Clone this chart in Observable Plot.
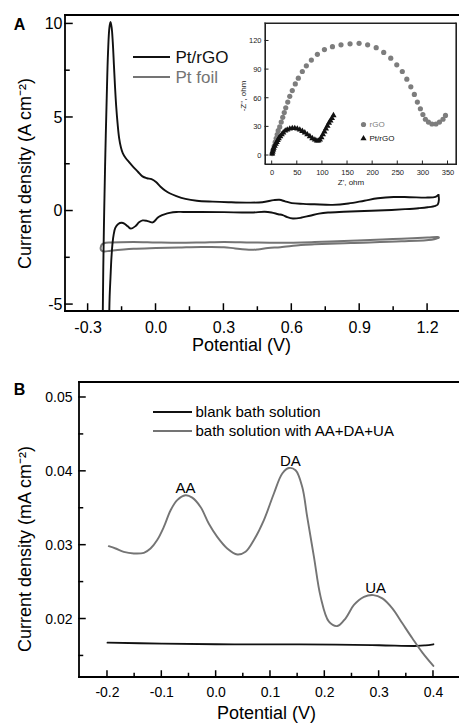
<!DOCTYPE html>
<html><head><meta charset="utf-8">
<script src="https://cdn.jsdelivr.net/npm/d3@7"></script>
<script src="https://cdn.jsdelivr.net/npm/@observablehq/plot@0.6"></script>
<style>
body{margin:0;background:#fff;}
#wrap{position:relative;width:459px;height:724px;overflow:hidden;background:#fff;}
#wrap svg{position:absolute;}
</style></head><body><div id="wrap"></div>
<script>
const FONT = "Liberation Sans, Arial, sans-serif";
const BLACK = "#111", GRAY = "#747474";

// ---------- Panel A: cyclic voltammograms ----------
const seriesA = ["Pt/rGO", "Pt foil"];
const xTicksA = [-0.3, 0.0, 0.3, 0.6, 0.9, 1.2];
const xMinorA = [-0.15, 0.15, 0.45, 0.75, 1.05];
const yTicksA = [-5, 0, 5, 10];
const yMinorA = [-2.5, 2.5, 7.5];
const xDomA = [-0.4, 1.341];
const yDomA = [-5.37, 10.45];

const ptrgoAnodic = [[-0.236,-6.5],[-0.233,-3],[-0.229,0],[-0.224,3],[-0.218,6],[-0.212,8.5],[-0.206,9.8],[-0.201,10.1],[-0.196,9.8],[-0.191,9.0],[-0.186,7.8],[-0.181,6.6],[-0.176,5.6],[-0.17,4.7],[-0.163,3.9],[-0.155,3.4],[-0.147,3.1],[-0.135,2.85],[-0.118,2.6],[-0.1,2.35],[-0.08,2.1],[-0.06,1.85],[-0.04,1.75],[-0.02,1.7],[0.0,1.55],[0.02,1.3],[0.04,1.1],[0.06,0.95],[0.09,0.8],[0.13,0.65],[0.18,0.55],[0.25,0.5],[0.32,0.47],[0.4,0.45],[0.47,0.47],[0.52,0.58],[0.545,0.6],[0.57,0.52],[0.6,0.42],[0.65,0.38],[0.7,0.36],[0.78,0.33],[0.85,0.4],[0.92,0.55],[0.98,0.68],[1.05,0.75],[1.12,0.74],[1.2,0.72],[1.235,0.76],[1.248,0.86]];
const ptrgoCathodic = [[1.248,0.86],[1.25,0.6],[1.245,0.35],[1.235,0.28],[1.2,0.2],[1.16,0.15],[1.1,0.1],[1.01,0.04],[0.92,0.0],[0.83,-0.04],[0.76,-0.08],[0.72,-0.14],[0.68,-0.25],[0.64,-0.36],[0.605,-0.4],[0.58,-0.33],[0.56,-0.22],[0.54,-0.17],[0.51,-0.08],[0.48,-0.04],[0.42,-0.08],[0.3,-0.06],[0.2,-0.05],[0.12,-0.05],[0.09,-0.05],[0.06,-0.1],[0.037,-0.18],[0.02,-0.26],[0.007,-0.36],[-0.005,-0.52],[-0.015,-0.61],[-0.027,-0.58],[-0.04,-0.53],[-0.059,-0.5],[-0.075,-0.6],[-0.09,-0.8],[-0.111,-0.94],[-0.125,-0.82],[-0.14,-0.67],[-0.152,-0.63],[-0.167,-0.69],[-0.18,-0.9],[-0.187,-1.25],[-0.192,-1.7],[-0.197,-2.5],[-0.201,-3.5],[-0.205,-4.6],[-0.208,-6.5]];
const ptFoil = [[-0.245,-1.98],[-0.24,-1.8],[-0.23,-1.72],[-0.2,-1.68],[-0.1,-1.65],[0.0,-1.68],[0.1,-1.7],[0.2,-1.68],[0.3,-1.65],[0.42,-1.68],[0.55,-1.7],[0.7,-1.66],[0.86,-1.59],[1.0,-1.52],[1.085,-1.48],[1.2,-1.42],[1.245,-1.39],[1.25,-1.42],[1.24,-1.47],[1.218,-1.53],[1.085,-1.62],[0.86,-1.71],[0.7,-1.78],[0.64,-1.82],[0.55,-1.93],[0.495,-1.98],[0.45,-2.05],[0.42,-2.07],[0.35,-2.0],[0.3,-1.93],[0.2,-1.92],[0.1,-1.95],[0.0,-1.98],[-0.1,-2.02],[-0.2,-2.12],[-0.23,-2.16],[-0.242,-2.1],[-0.245,-1.98]];

// ---------- Inset: Nyquist ----------
const seriesInset = ["rGO", "Pt/rGO"];
const xTicksIn = [0, 50, 100, 150, 200, 250, 300, 350];
const yTicksIn = [0, 30, 60, 90, 120];
const xDomIn = [-13.3, 366.9];
const yDomIn = [-9.4, 138.3];
const rgoZ = [[0,2],[2,6],[4,10],[6,14],[8,18],[10,22],[12,26],[15,30],[18,35],[21,40],[24,45],[27,50],[31,56],[35,62],[40,68],[46,75],[52,81],[60,88],[68,94],[78,100],[90,106],[104,111],[120,114],[137,116],[155,117],[173,117.5],[190,116],[207,113],[222,108],[236,102],[248,95],[259,88],[268,80],[276,72],[283,64],[289,56],[295,49],[300,43],[305,38],[311,35],[318,33],[326,33],[333,35],[340,38],[345,42]];
const ptrgoZ = [[0,2],[1,4],[2,6],[3,8],[5,10],[7,12],[9,14],[11,16],[13,18],[16,20],[19,22],[22,24],[26,26],[30,27],[35,28],[40,28.5],[45,28.5],[50,28],[55,27],[60,25.5],[65,24],[70,22],[75,20],[80,18],[85,16.5],[89,15.5],[92,15.5],[95,16.5],[98,19],[101,22],[104,25],[107,28],[110,31],[113,34],[116,36.5],[119,39],[122,42]];

// ---------- Panel B: DPV ----------
const seriesB = ["blank bath solution", "bath solution with AA+DA+UA"];
const xTicksB = [-0.2, -0.1, 0.0, 0.1, 0.2, 0.3, 0.4];
const xMinorB = [-0.15, -0.05, 0.05, 0.15, 0.25, 0.35];
const yTicksB = [0.02, 0.03, 0.04, 0.05];
const yMinorB = [0.015, 0.025, 0.035, 0.045];
const xDomB = [-0.2515, 0.4479];
const yDomB = [0.01208, 0.05203];
const blank = [[-0.2,0.0168],[-0.1,0.01667],[0.0,0.01658],[0.1,0.01657],[0.22,0.01652],[0.3,0.01645],[0.37,0.01635],[0.385,0.01643],[0.4,0.01658]];
const withAnalytes = [[-0.1976,0.02986],[-0.185,0.02955],[-0.17,0.0291],[-0.1516,0.02888],[-0.133,0.02897],[-0.1208,0.02955],[-0.1085,0.0307],[-0.0963,0.03247],[-0.084,0.0347],[-0.0717,0.0361],[-0.0564,0.03676],[-0.044,0.03644],[-0.0287,0.03518],[-0.0134,0.0329],[0.002,0.03112],[0.0204,0.02955],[0.0389,0.02874],[0.0541,0.0291],[0.0695,0.0307],[0.0879,0.0334],[0.1063,0.037],[0.1217,0.0397],[0.1339,0.04045],[0.1462,0.04014],[0.1585,0.03788],[0.1676,0.03382],[0.18,0.02842],[0.1923,0.023],[0.2076,0.01964],[0.223,0.01905],[0.2383,0.0201],[0.2536,0.0219],[0.2721,0.023],[0.2893,0.02324],[0.3059,0.0228],[0.3243,0.02145],[0.3427,0.01942],[0.3611,0.01739],[0.3796,0.01545],[0.3998,0.01365]];
const peakNames = ["AA", "DA", "UA"];
const peakX = [-0.0564, 0.1365, 0.2935];
const peakY = [0.03676, 0.04045, 0.02324];

const wrap = document.getElementById("wrap");
const f1 = d => d.toFixed(1);
const f2 = d => d.toFixed(2);
const f0 = d => String(d);

function place(svg, left, top) {
  svg.style.left = left + "px";
  svg.style.top = top + "px";
  wrap.appendChild(svg);
  return svg;
}

// frame sides and inward tick marks, positioned through the plot's own scales
function decorate(svg, o) {
  const sx = svg.scale("x"), sy = svg.scale("y");
  const X = v => sx.apply(v), Y = v => sy.apply(v);
  const g = d3.select(svg).append("g");
  const ln = (x1, y1, x2, y2, w) => g.append("line")
    .attr("x1", x1).attr("y1", y1).attr("x2", x2).attr("y2", y2)
    .attr("stroke", o.color).attr("stroke-width", w).attr("stroke-linecap", "square");
  const xa = X(o.xDom[0]), xb = X(o.xDom[1]), ya = Y(o.yDom[0]), yb = Y(o.yDom[1]);
  for (const v of o.xMaj) ln(X(v), ya, X(v), ya - o.maj, o.tw);
  for (const v of o.xMin) ln(X(v), ya, X(v), ya - o.min, o.tw);
  for (const v of o.yMaj) ln(xa, Y(v), xa + o.maj, Y(v), o.tw);
  for (const v of o.yMin) ln(xa, Y(v), xa + o.min, Y(v), o.tw);
  for (const s of o.sides) {
    if (s === "left") ln(xa, ya, xa, yb, o.fw);
    if (s === "right") ln(xb, ya, xb, yb, o.fw);
    if (s === "bottom") ln(xa, ya, xb, ya, o.fw);
    if (s === "top") ln(xa, yb, xb, yb, o.fw);
  }
}

// ===== Panel A =====
{
  const W = 459, H = 360, mt = 15, mb = 49, ml = 65, mr = 0;
  const svg = Plot.plot({
    width: W, height: H, marginTop: mt, marginBottom: mb, marginLeft: ml, marginRight: mr,
    style: {fontFamily: FONT, fontSize: "16px", color: "#000", background: "white"},
    x: {domain: xDomA},
    y: {domain: yDomA},
    marks: [
      Plot.line(ptFoil, {x: d => d[0], y: d => d[1], stroke: GRAY, strokeWidth: 2, curve: "catmull-rom", clip: true}),
      Plot.line(ptrgoAnodic, {x: d => d[0], y: d => d[1], stroke: BLACK, strokeWidth: 1.9, curve: "catmull-rom", clip: true}),
      Plot.line(ptrgoCathodic, {x: d => d[0], y: d => d[1], stroke: BLACK, strokeWidth: 1.9, curve: "catmull-rom", clip: true}),
      Plot.axisX(xTicksA, {anchor: "bottom", tickSize: 0, tickPadding: 10, tickFormat: f1, fontSize: 16, label: null}),
      Plot.axisY(yTicksA, {anchor: "left", tickSize: 0, tickPadding: 3, tickFormat: f0, fontSize: 16, label: null}),
      Plot.text(["Potential (V)"], {frameAnchor: "bottom", dx: -21, dy: 34, lineAnchor: "middle", fontSize: 18}),
      Plot.text(["Current density (A cm\u207B\u00B2)"], {frameAnchor: "left", rotate: -90, textAnchor: "middle", lineAnchor: "middle", dx: -40, dy: 10, fontSize: 18}),
      Plot.text(["A"], {frameAnchor: "top-left", dx: -46, dy: 9, textAnchor: "middle", lineAnchor: "middle", fontWeight: "bold", fontSize: 16}),
      Plot.text([seriesA[0]], {frameAnchor: "top-left", dx: 110, dy: 42, textAnchor: "start", lineAnchor: "middle", fontSize: 17, fill: BLACK}),
      Plot.text([seriesA[1]], {frameAnchor: "top-left", dx: 110, dy: 62, textAnchor: "start", lineAnchor: "middle", fontSize: 17, fill: GRAY})
    ]
  });
  decorate(svg, {xDom: xDomA, yDom: yDomA, xMaj: xTicksA, xMin: xMinorA, yMaj: yTicksA, yMin: yMinorA,
    maj: 7, min: 4, tw: 1.5, fw: 1.8, color: "#000", sides: ["left", "bottom", "top"]});
  const s = d3.select(svg);
  s.append("line").attr("x1", 133).attr("x2", 170).attr("y1", 57).attr("y2", 57).attr("stroke", BLACK).attr("stroke-width", 2);
  s.append("line").attr("x1", 133).attr("x2", 170).attr("y1", 77).attr("y2", 77).attr("stroke", GRAY).attr("stroke-width", 2);
  place(svg, 0, 0);
}

// ===== Inset =====
{
  const W = 229, H = 180, mt = 8, mb = 31, ml = 35, mr = 3;
  const svg = Plot.plot({
    width: W, height: H, marginTop: mt, marginBottom: mb, marginLeft: ml, marginRight: mr,
    style: {fontFamily: FONT, fontSize: "7.5px", color: "#222", background: "transparent"},
    x: {domain: xDomIn},
    y: {domain: yDomIn},
    marks: [
      Plot.frame({fill: "white", stroke: "#222", strokeWidth: 1}),
      Plot.axisX(xTicksIn, {anchor: "bottom", tickSize: 0, tickPadding: 5, tickFormat: f0, fontSize: 7.5, label: null}),
      Plot.axisY(yTicksIn, {anchor: "left", tickSize: 0, tickPadding: 4, tickFormat: f0, fontSize: 7.5, label: null}),
      Plot.text(["Z', ohm"], {frameAnchor: "bottom", dx: -10, dy: 18, lineAnchor: "middle", fontSize: 8}),
      Plot.text(["-Z'', ohm"], {frameAnchor: "left", rotate: -90, textAnchor: "middle", lineAnchor: "middle", dx: -22, dy: 2, fontSize: 8}),
      Plot.dot(rgoZ, {x: d => d[0], y: d => d[1], r: 2.6, fill: "#7d7d7d", stroke: "none"}),
      Plot.dot(ptrgoZ, {x: d => d[0], y: d => d[1], r: 2.3, symbol: "triangle", fill: "#111", stroke: "none"}),
      Plot.dot([seriesInset[0]], {frameAnchor: "top-left", dx: 98, dy: 101, r: 2.6, fill: "#7d7d7d", stroke: "none"}),
      Plot.dot([seriesInset[1]], {frameAnchor: "top-left", dx: 98, dy: 115, r: 2.3, symbol: "triangle", fill: "#111", stroke: "none"}),
      Plot.text([seriesInset[0]], {frameAnchor: "top-left", dx: 104, dy: 101, textAnchor: "start", lineAnchor: "middle", fontSize: 8, fill: "#7d7d7d"}),
      Plot.text([seriesInset[1]], {frameAnchor: "top-left", dx: 104, dy: 115, textAnchor: "start", lineAnchor: "middle", fontSize: 8, fill: "#111"})
    ]
  });
  decorate(svg, {xDom: xDomIn, yDom: yDomIn, xMaj: xTicksIn, xMin: [], yMaj: yTicksIn, yMin: [],
    maj: 3, min: 2, tw: 1, fw: 1.2, color: "#222", sides: ["left", "bottom", "top", "right"]});
  place(svg, 230, 15);
}

// ===== Panel B =====
{
  const W = 459, H = 364, mt = 22, mb = 47, ml = 79, mr = 0;
  const peaks = peakNames.map((n, i) => ({n, x: peakX[i], y: peakY[i]}));
  const svg = Plot.plot({
    width: W, height: H, marginTop: mt, marginBottom: mb, marginLeft: ml, marginRight: mr,
    style: {fontFamily: FONT, fontSize: "14px", color: "#000", background: "white"},
    x: {domain: xDomB},
    y: {domain: yDomB},
    marks: [
      Plot.line(blank, {x: d => d[0], y: d => d[1], stroke: BLACK, strokeWidth: 1.8, curve: "catmull-rom"}),
      Plot.line(withAnalytes, {x: d => d[0], y: d => d[1], stroke: GRAY, strokeWidth: 1.9, curve: "catmull-rom"}),
      Plot.axisX(xTicksB, {anchor: "bottom", tickSize: 0, tickPadding: 10, tickFormat: f1, fontSize: 14, label: null}),
      Plot.axisY(yTicksB, {anchor: "left", tickSize: 0, tickPadding: 7, tickFormat: f2, fontSize: 14, label: null}),
      Plot.text(peaks, {x: "x", y: "y", text: "n", lineAnchor: "bottom", dy: -2, fontSize: 15}),
      Plot.text(["Potential (V)"], {frameAnchor: "bottom", dx: -3, dy: 36, lineAnchor: "middle", fontSize: 18}),
      Plot.text(["Current density (mA cm\u207B\u00B2)"], {frameAnchor: "left", rotate: -90, textAnchor: "middle", lineAnchor: "middle", dx: -54, dy: 19, fontSize: 18}),
      Plot.text(["B"], {frameAnchor: "top-left", dx: -60, dy: 7, textAnchor: "middle", lineAnchor: "middle", fontWeight: "bold", fontSize: 16}),
      Plot.text([seriesB[0]], {frameAnchor: "top-left", dx: 116, dy: 30, textAnchor: "start", lineAnchor: "middle", fontSize: 15}),
      Plot.text([seriesB[1]], {frameAnchor: "top-left", dx: 116, dy: 49, textAnchor: "start", lineAnchor: "middle", fontSize: 15})
    ]
  });
  decorate(svg, {xDom: xDomB, yDom: yDomB, xMaj: xTicksB, xMin: xMinorB, yMaj: yTicksB, yMin: yMinorB,
    maj: 6, min: 3.5, tw: 1.5, fw: 1.8, color: "#000", sides: ["left", "bottom", "top"]});
  const s = d3.select(svg);
  s.append("line").attr("x1", 153).attr("x2", 192).attr("y1", 52).attr("y2", 52).attr("stroke", BLACK).attr("stroke-width", 1.8);
  s.append("line").attr("x1", 153).attr("x2", 192).attr("y1", 71).attr("y2", 71).attr("stroke", GRAY).attr("stroke-width", 1.8);
  place(svg, 0, 360);
}
</script></body></html>
